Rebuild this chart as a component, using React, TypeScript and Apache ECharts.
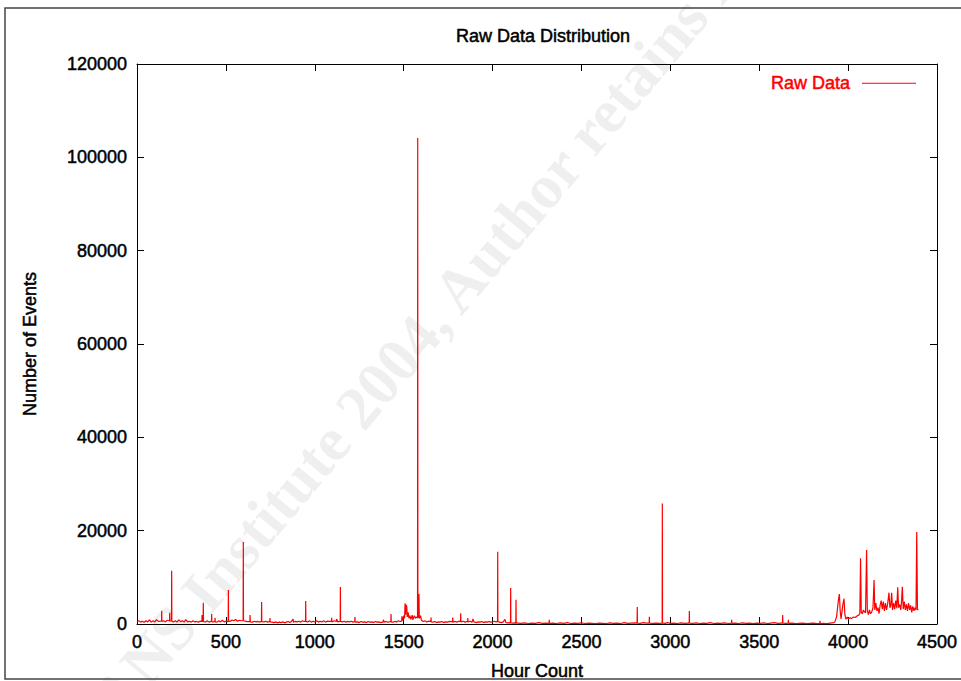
import React, { useEffect, useRef } from "react";
import * as echarts from "echarts";

// [hour, number of events]
const earlyHours: [number, number][] = [
  [0, 500], [10, 700], [20, 400], [30, 600], [40, 350], [50, 700], [60, 450], [70, 900], [80, 400], [90, 700],
  [100, 450], [110, 950], [120, 550], [138, 600], [139, 2850], [140, 550], [150, 700], [160, 450], [170, 800],
  [183, 700], [184, 2420], [185, 600], [194, 700], [195, 11430], [196, 600], [205, 450], [215, 700], [225, 400],
  [235, 900], [245, 500], [255, 700], [265, 400], [275, 950], [285, 450], [295, 600], [305, 400], [315, 700],
  [325, 450], [335, 550], [345, 400], [355, 600], [365, 550], [366, 1930], [367, 550], [372, 600], [373, 4570],
  [374, 500], [385, 450], [395, 700], [405, 400], [419, 600], [420, 2140], [421, 500], [430, 450], [438, 550],
  [439, 1360], [440, 450], [450, 400], [460, 700], [470, 450], [480, 800], [490, 450], [500, 600], [510, 500],
  [513, 700], [514, 7290], [515, 550], [525, 600], [535, 850], [545, 700], [555, 950], [565, 600], [575, 800],
  [585, 700], [597, 700], [598, 17570], [599, 700], [610, 600], [620, 500], [635, 550], [636, 1930], [637, 450],
  [650, 400], [660, 600], [670, 450], [680, 550], [690, 400], [700, 600], [701, 4710], [702, 500], [715, 450],
  [725, 600], [735, 400], [747, 550], [748, 1300], [749, 450], [760, 400], [770, 300], [780, 450], [790, 250],
  [800, 400], [810, 300], [820, 450], [830, 250], [840, 400], [850, 550], [860, 300], [870, 600], [878, 1070],
  [880, 400], [890, 550], [900, 450], [910, 600], [920, 400], [930, 700], [940, 550], [948, 600], [949, 4930],
  [950, 550], [960, 450], [970, 700], [980, 400], [990, 600], [1000, 450], [1010, 700], [1020, 400], [1030, 600],
  [1040, 450], [1050, 700], [1060, 400], [1070, 600], [1080, 550], [1094, 600], [1095, 1350], [1096, 450],
  [1110, 700], [1122, 550], [1123, 1070], [1130, 450], [1143, 600], [1144, 7930], [1145, 550], [1155, 450],
  [1165, 600], [1175, 400], [1185, 550], [1195, 450], [1205, 600], [1215, 400], [1225, 550], [1226, 1500],
  [1227, 400], [1240, 450], [1250, 300], [1260, 550], [1270, 400], [1280, 450], [1290, 300], [1300, 550],
  [1310, 400], [1320, 450], [1330, 300], [1340, 550], [1350, 400], [1360, 450], [1370, 300], [1385, 450],
  [1386, 920], [1390, 400], [1400, 550], [1410, 400], [1420, 450], [1428, 550], [1429, 2140], [1430, 450],
  [1440, 400], [1450, 550], [1460, 450], [1470, 700], [1480, 550], [1489, 600], [1490, 1640], [1495, 700],
  [1500, 1800], [1505, 1200], [1508, 4430], [1511, 2000], [1514, 4100], [1517, 3800], [1520, 1500], [1525, 2500],
  [1530, 1200], [1535, 1800], [1540, 1000], [1548, 1900], [1552, 900], [1560, 1800], [1566, 1200], [1570, 1500],
  [1578, 1300], [1579, 104150], [1580, 1400], [1585, 1500], [1586, 6430], [1588, 1200], [1595, 1800], [1600, 800],
  [1610, 550], [1620, 700], [1630, 450], [1640, 600], [1653, 550], [1654, 1400], [1655, 450], [1665, 400],
  [1675, 550], [1685, 300], [1695, 450], [1705, 400], [1715, 550], [1725, 300], [1735, 450], [1745, 400],
  [1760, 550], [1775, 450], [1776, 1400], [1777, 400], [1790, 550], [1800, 400], [1810, 600], [1820, 550],
  [1821, 2290], [1822, 450], [1835, 600], [1845, 400], [1860, 550], [1861, 1300], [1862, 450], [1875, 600],
  [1885, 400], [1890, 1100], [1895, 450], [1910, 300], [1920, 450], [1930, 400], [1940, 550], [1950, 300],
  [1960, 450], [1970, 400], [1980, 550], [1990, 400], [2000, 450], [2010, 600], [2020, 450], [2028, 550],
  [2029, 15500], [2030, 550], [2040, 400], [2050, 300], [2060, 450], [2070, 1000], [2075, 300], [2085, 250],
  [2095, 300], [2101, 250], [2102, 7710], [2103, 250], [2115, 200], [2125, 250], [2131, 200], [2132, 5210],
  [2133, 200], [2145, 200],
];

const middleHours: [number, number][] = [
  [2160, 150], [2180, 250], [2200, 100], [2220, 200], [2240, 150], [2260, 300], [2280, 150], [2300, 200],
  [2318, 150], [2319, 900], [2320, 150], [2340, 200], [2360, 100], [2380, 250], [2400, 150], [2420, 300],
  [2440, 100], [2460, 200], [2480, 150], [2500, 250], [2520, 100], [2540, 200], [2560, 150], [2580, 100],
  [2600, 200], [2620, 150], [2640, 100], [2660, 250], [2680, 150], [2700, 200], [2720, 100], [2740, 300],
  [2760, 150], [2780, 200], [2800, 250], [2813, 200], [2814, 3640], [2815, 200], [2830, 150], [2850, 300],
  [2865, 200], [2881, 200], [2882, 1570], [2883, 200], [2900, 150], [2920, 200], [2940, 150], [2954, 200],
  [2955, 25800], [2956, 200], [2970, 150], [2985, 300], [3000, 150], [3020, 200], [3040, 100], [3060, 250],
  [3080, 150], [3100, 200], [3106, 200], [3107, 2790], [3108, 200], [3125, 150], [3145, 250], [3165, 100],
  [3185, 200], [3205, 150], [3225, 300], [3245, 100], [3265, 200], [3285, 150], [3305, 250], [3325, 100],
  [3344, 200], [3345, 900], [3346, 150], [3365, 200], [3385, 100], [3405, 250], [3425, 150], [3445, 200],
  [3465, 100], [3485, 200], [3505, 150], [3525, 250], [3545, 100], [3565, 200], [3585, 300], [3605, 150],
  [3625, 200], [3631, 200], [3632, 1930], [3633, 200], [3650, 150], [3663, 200], [3664, 900], [3665, 150],
  [3685, 200], [3705, 100], [3725, 150], [3745, 200], [3765, 100], [3785, 150], [3805, 200], [3825, 100],
  [3841, 150], [3842, 700], [3843, 100], [3860, 150], [3880, 100], [3900, 200], [3920, 300],
];

const lateHours: [number, number][] = [
  [3926, 500], [3935, 1500], [3945, 5000], [3951, 6430], [3955, 3000], [3960, 1100], [3965, 2500], [3970, 4000],
  [3977, 5430], [3982, 2000], [3988, 1000], [3995, 1500], [4000, 1100], [4010, 1300], [4020, 1200], [4030, 1500],
  [4040, 1400], [4050, 1700], [4060, 1900], [4066, 2200], [4070, 14070], [4074, 2500], [4080, 2200], [4086, 3000],
  [4092, 2600], [4098, 2400], [4104, 15860], [4108, 2800], [4114, 2000], [4120, 3000], [4126, 2200], [4132, 2500],
  [4140, 3500], [4146, 9430], [4150, 3000], [4156, 4500], [4162, 2800], [4168, 3500], [4174, 2200], [4180, 4000],
  [4186, 5000], [4192, 3200], [4198, 4800], [4204, 2800], [4210, 4500], [4216, 3000], [4222, 4200], [4230, 6710],
  [4235, 3500], [4240, 4000], [4245, 6700], [4250, 3000], [4256, 4500], [4262, 3200], [4268, 5000], [4274, 3400],
  [4279, 7860], [4284, 3500], [4290, 4200], [4296, 3000], [4300, 4500], [4305, 8000], [4310, 3200], [4316, 4800],
  [4322, 3000], [4328, 4200], [4334, 2800], [4340, 4500], [4346, 3000], [4352, 4000], [4358, 2500], [4364, 3800],
  [4370, 2800], [4376, 3500], [4382, 3000], [4386, 19710], [4390, 3200], [4395, 3000],
];

const xMin = 0;
const xMax = 4500;
const xStep = 500;
const yMin = 0;
const yMax = 120000;
const yStep = 20000;

const TITLE = "Raw Data Distribution";
const SERIES_NAME = "Raw Data";
const X_NAME = "Hour Count";
const Y_NAME = "Number of Events";
const WATERMARK = "SANS Institute 2004, Author retains full rights.";

const FONT = '"Liberation Sans", Arial, Helvetica, sans-serif';

export default function App() {
  const ref = useRef<HTMLDivElement>(null);

  useEffect(() => {
    if (!ref.current) return;
    const chart = echarts.init(ref.current, undefined, { renderer: "svg" });
    const data = [...earlyHours, ...middleHours, ...lateHours];

    const axisCommon = {
      axisLine: { show: true, onZero: false, lineStyle: { color: "#000", width: 1 } },
      axisTick: { show: true, inside: true, length: 7, lineStyle: { color: "#000", width: 1 } },
      splitLine: { show: false },
    };
    const heavy = { textBorderColor: "#000", textBorderWidth: 0.5 };
    const labelStyle = { color: "#000", fontSize: 18, fontFamily: FONT, ...heavy };
    const plain = (v: number) => String(v);

    chart.setOption({
      animation: false,
      backgroundColor: "#fff",
      title: {
        text: TITLE,
        left: 538,
        top: 22,
        textAlign: "center",
        textStyle: { color: "#000", fontSize: 18, fontWeight: "normal", fontFamily: FONT, ...heavy },
      },
      legend: {
        data: [SERIES_NAME],
        right: 40,
        top: 69,
        align: "right",
        icon: "rect",
        itemWidth: 54,
        itemHeight: 1.2,
        textStyle: {
          color: "#ff0000",
          fontSize: 18,
          fontFamily: FONT,
          textBorderColor: "#ff0000",
          textBorderWidth: 0.5,
          padding: [0, 7, 0, 0],
        },
      },
      graphic: [
        {
          type: "text",
          x: 82,
          y: 736,
          rotation: (50 * Math.PI) / 180,
          z: -10,
          silent: true,
          style: {
            text: WATERMARK,
            font: 'bold 62px "Liberation Serif", "Times New Roman", serif',
            fill: "#efefef",
            textAlign: "left",
            textVerticalAlign: "middle",
          },
        },
        {
          type: "rect",
          z: -5,
          silent: true,
          shape: { x: 5, y: 8, width: 1000, height: 671 },
          style: { fill: "none", stroke: "#444", lineWidth: 1.5 },
        },
      ],
      grid: {
        left: 137,
        right: 24,
        top: 64,
        bottom: 57,
        containLabel: false,
        outerBoundsMode: "none",
      },
      xAxis: [
        {
          type: "value",
          min: xMin,
          max: xMax,
          interval: xStep,
          position: "bottom",
          ...axisCommon,
          axisLabel: { ...labelStyle, margin: 9, formatter: plain },
          name: X_NAME,
          nameLocation: "middle",
          nameGap: 38,
          nameTextStyle: { ...labelStyle },
        },
        {
          type: "value",
          min: xMin,
          max: xMax,
          interval: xStep,
          position: "top",
          ...axisCommon,
          axisLabel: { show: false },
        },
      ],
      yAxis: [
        {
          type: "value",
          min: yMin,
          max: yMax,
          interval: yStep,
          position: "left",
          ...axisCommon,
          axisLabel: { ...labelStyle, margin: 10, formatter: plain },
          name: Y_NAME,
          nameLocation: "middle",
          nameGap: 98,
          nameTextStyle: { ...labelStyle },
        },
        {
          type: "value",
          min: yMin,
          max: yMax,
          interval: yStep,
          position: "right",
          ...axisCommon,
          axisLabel: { show: false },
        },
      ],
      series: [
        {
          name: SERIES_NAME,
          type: "line",
          xAxisIndex: 0,
          yAxisIndex: 0,
          data,
          symbol: "none",
          showSymbol: false,
          lineStyle: { color: "#ff0000", width: 1.2 },
          itemStyle: { color: "#ff0000" },
        },
      ],
    });

    return () => chart.dispose();
  }, []);

  return (
    <div
      ref={ref}
      style={{ position: "absolute", left: 0, top: 0, width: 961, height: 681 }}
    />
  );
}
